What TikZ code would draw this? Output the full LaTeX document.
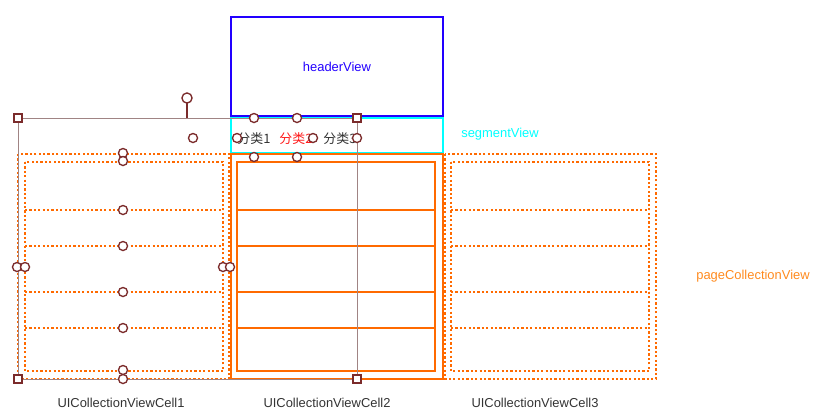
\documentclass[tikz,border=0pt]{standalone}
\usepackage{fontspec}
\setmainfont{Liberation Sans}
\newfontfamily\cjk{Noto Sans CJK SC}
\usetikzlibrary{calc}
\definecolor{hdrblue}{HTML}{2200FF}
\definecolor{segcyan}{HTML}{00FFFF}
\definecolor{cellorange}{HTML}{FF6A00}
\definecolor{pageorange}{HTML}{FF8A1E}
\definecolor{selred}{HTML}{FF1A1A}
\definecolor{selline}{HTML}{A08484}
\definecolor{handlebrown}{HTML}{7B2B2B}
\definecolor{labelgray}{HTML}{333333}

\begin{document}
\begin{tikzpicture}[x=0.75pt,y=-0.75pt,
    lbl/.style={font=\fontsize{9.7}{11}\selectfont,text=labelgray,inner sep=0pt},
    dotline/.style={cellorange,line width=1.8pt,dash pattern=on 1.6pt off 1.7pt},
    solidline/.style={cellorange,line width=1.8pt},
    handle/.style={circle,draw=handlebrown,fill=white,line width=1pt,inner sep=0pt,minimum size=6.8pt},
    corner/.style={rectangle,draw=handlebrown,fill=white,line width=1pt,inner sep=0pt,minimum size=6pt}]
          \useasboundingbox (0,0) rectangle (820,419);
          \draw[hdrblue,line width=1.8pt] (231,17) rectangle (443,116);
          \draw[segcyan,line width=1.8pt] (231,118) rectangle (443,153);
          \draw[dotline] (18,154) rectangle (229,379);
          \draw[dotline] (25,162) rectangle (223,371);
          \draw[solidline] (231,154) rectangle (443,379);
          \draw[solidline] (237,162) rectangle (435,371);
          \draw[dotline] (445,154) rectangle (656,379);
          \draw[dotline] (451,162) rectangle (649,371);
          \foreach \y in {210,246,292,328} {
            \draw[dotline] (25,\y)--(223,\y);
            \draw[solidline] (237,\y)--(435,\y);
            \draw[dotline] (451,\y)--(649,\y);
          }
          \node[lbl,text=hdrblue] (header) at (337,67) {headerView};
          \node[lbl,text=segcyan] (segment) at (500,134) {segmentView};
          \node[lbl] (seg1) at (254,139) {\cjk 分类1};
          \node[lbl,text=selred] (seg2) at (296,139) {\cjk 分类2};
          \node[lbl] (seg3) at (340,139) {\cjk 分类3};
          \node[lbl,text=pageorange] (page) at (753,276) {pageCollectionView};
          \node[lbl] (cell1) at (121,403) {UICollectionViewCell1};
          \node[lbl] (cell2) at (327,403) {UICollectionViewCell2};
          \node[lbl] (cell3) at (535,403) {UICollectionViewCell3};
          \draw[selline,line width=0.75pt] (18,118) rectangle (357,379);
          \draw[handlebrown,line width=1pt] (187,103)--(187,118);
          \node[handle,minimum size=7.6pt] (rotate) at (187,98) {};
          \foreach \p in {(193,138),(254,118),(297,118),(237,138),(313,138),(357,138),
                          (254,157),(297,157),(123,153),(123,161),(123,210),(123,246),
                          (17,267),(25,267),(223,267),(230,267),(123,292),(123,328),
                          (123,370),(123,379)}
            \node[handle] at \p {};
          \foreach \p in {(18,118),(357,118),(18,379),(357,379)}
            \node[corner] at \p {};
        \end{tikzpicture}
\end{document}
